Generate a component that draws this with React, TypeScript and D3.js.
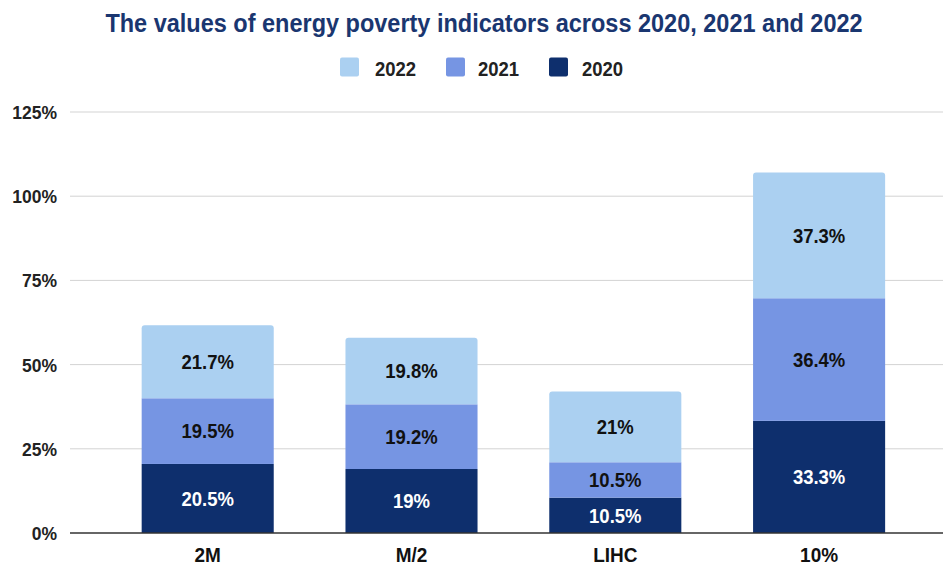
import React from "react";
import * as d3 from "d3";

const categories = ["2M", "M/2", "LIHC", "10%"];
const series2020 = [20.5, 19, 10.5, 33.3];
const series2021 = [19.5, 19.2, 10.5, 36.4];
const series2022 = [21.7, 19.8, 21, 37.3];
const yTicks = [0, 25, 50, 75, 100, 125];
const legendLabels = ["2022", "2021", "2020"];

const W = 943;
const H = 565;
const FONT = "'Liberation Sans', Arial, Helvetica, sans-serif";

const COLORS: Record<string, string> = {
  "2022": "#abd0f1",
  "2021": "#7695e3",
  "2020": "#0e2f6d",
};
const LABEL_COLORS: Record<string, string> = {
  "2022": "#111111",
  "2021": "#111111",
  "2020": "#ffffff",
};

function roundedTopRect(x: number, y: number, w: number, h: number, r: number) {
  const rr = Math.min(r, h, w / 2);
  return `M${x},${y + h}V${y + rr}Q${x},${y} ${x + rr},${y}H${x + w - rr}Q${x + w},${y} ${x + w},${y + rr}V${y + h}Z`;
}

// text stretched slightly vertically around its baseline
function T(props: {
  x: number;
  y: number;
  k?: number;
  anchor?: string;
  size: number;
  fill: string;
  children: React.ReactNode;
}) {
  const k = props.k ?? 1.1;
  return (
    <text
      transform={`translate(${props.x},${props.y}) scale(1,${k})`}
      textAnchor={props.anchor ?? "start"}
      fontSize={props.size}
      fontWeight="bold"
      fill={props.fill}
    >
      {props.children}
    </text>
  );
}

export default function App() {
  const y = d3.scaleLinear().domain([0, 125]).range([533, 112]);
  const x = d3
    .scaleBand<string>()
    .domain(categories)
    .range([105.8, 921])
    .paddingInner(0.352)
    .paddingOuter(0.176);

  const rows = categories.map((c, i) => ({
    cat: c,
    "2020": series2020[i],
    "2021": series2021[i],
    "2022": series2022[i],
  }));
  const stack = d3.stack<any>().keys(["2020", "2021", "2022"]);
  const stacked = stack(rows);

  const gridLeft = 70;
  const gridRight = W;

  const legendItems = [
    { key: "2022", sx: 340, tx: 375 },
    { key: "2021", sx: 446, tx: 478 },
    { key: "2020", sx: 549, tx: 582 },
  ];

  return (
    <svg
      width={W}
      height={H}
      style={{ position: "absolute", left: 0, top: 0, display: "block", background: "#ffffff" }}
      fontFamily={FONT}
    >
      <rect x={0} y={0} width={W} height={H} fill="#ffffff" />
      <T x={484} y={32} k={1.13} anchor="middle" size={23.5} fill="#1a3670">
        The values of energy poverty indicators across 2020, 2021 and 2022
      </T>

      {legendItems.map((it, i) => (
        <g key={it.key}>
          <rect x={it.sx} y={57.5} width={19} height={19} rx={2} fill={COLORS[legendLabels[i]]} />
          <T x={it.tx} y={75.5} size={18.5} fill="#222222">
            {legendLabels[i]}
          </T>
        </g>
      ))}

      {yTicks.map((t) => (
        <g key={t}>
          {t !== 0 && (
            <line
              x1={gridLeft}
              x2={gridRight}
              y1={y(t)}
              y2={y(t)}
              stroke="#d3d3d3"
              strokeWidth={1}
            />
          )}
          <T x={57} y={y(t) + 7} anchor="end" size={17.5} fill="#222222">
            {`${t}%`}
          </T>
        </g>
      ))}

      {stacked.map((layer) => {
        const key = layer.key as string;
        return (
          <g key={key}>
            {layer.map((d, i) => {
              const cat = categories[i];
              const x0 = x(cat) as number;
              const bw = x.bandwidth();
              const yTop = y(d[1]);
              const yBot = y(d[0]);
              const isTop = key === "2022";
              return isTop ? (
                <path key={cat} d={roundedTopRect(x0, yTop, bw, yBot - yTop, 3)} fill={COLORS[key]} />
              ) : (
                <rect key={cat} x={x0} y={yTop} width={bw} height={yBot - yTop} fill={COLORS[key]} />
              );
            })}
          </g>
        );
      })}

      {stacked.map((layer) => {
        const key = layer.key as string;
        return (
          <g key={key + "-labels"}>
            {layer.map((d, i) => {
              const cat = categories[i];
              const cx = (x(cat) as number) + x.bandwidth() / 2;
              const cy = (y(d[0]) + y(d[1])) / 2;
              const v = (d.data as any)[key] as number;
              return (
                <T key={cat} x={cx} y={cy + 7.3} anchor="middle" size={18.5} fill={LABEL_COLORS[key]}>
                  {`${v}%`}
                </T>
              );
            })}
          </g>
        );
      })}

      <line x1={gridLeft} x2={gridRight} y1={y(0)} y2={y(0)} stroke="#333333" strokeWidth={1.3} />

      {categories.map((c) => (
        <T
          key={c}
          x={(x(c) as number) + x.bandwidth() / 2}
          y={562}
          anchor="middle"
          size={19}
          fill="#111111"
        >
          {c}
        </T>
      ))}
    </svg>
  );
}
